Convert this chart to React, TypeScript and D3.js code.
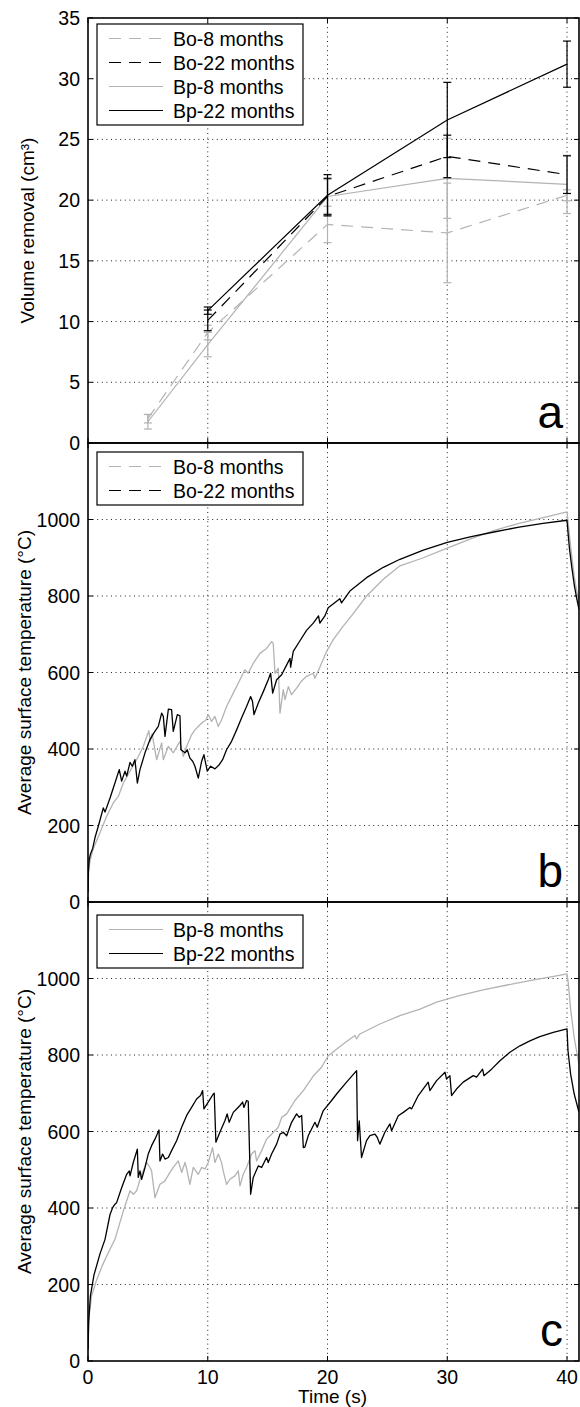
import React from "react";
import * as d3 from "d3";

// ---- Volume removal (panel a) ----
const volTimes8 = [5, 10, 20, 30, 40];
const volTimes22 = [10, 20, 30, 40];
const bo8Vol = [2.0, 9.1, 18.0, 17.3, 20.4];
const bo8Err = [0.35, 0.6, 1.5, 4.1, 0.45];
const bp8Vol = [1.75, 8.1, 20.3, 21.8, 21.3];
const bp8Err = [0.6, 1.0, 1.4, 3.3, 2.4];
const bo22Vol = [10.1, 20.3, 23.6, 22.1];
const bo22Err = [0.85, 1.5, 1.75, 1.55];
const bp22Vol = [10.9, 20.4, 26.6, 31.2];
const bp22Err = [0.3, 1.7, 3.1, 1.9];

// ---- Surface temperature, Bo samples (panel b) ----
const bo8Temp: [number, number][] = [
  [0, 25], [0.05, 75], [0.15, 105], [0.4, 135], [0.58, 150], [1.0, 181], [1.56, 224], [2.11, 259],
  [2.53, 276], [2.95, 311], [3.51, 342], [4.06, 372], [4.62, 407], [5.08, 448], [5.2, 420], [5.35, 440],
  [5.73, 372], [6.15, 416], [6.29, 372], [6.71, 407], [7.12, 390], [7.68, 420], [7.96, 381], [8.24, 407],
  [8.65, 437], [8.93, 450], [9.21, 459], [9.49, 468], [9.85, 476], [10.04, 490], [10.32, 472], [10.6, 485],
  [10.88, 459], [11.15, 476], [11.57, 511], [12.13, 546], [12.69, 581], [13.1, 607], [13.38, 598],
  [13.8, 624], [14.36, 650], [14.91, 663], [15.33, 681], [15.47, 676], [15.61, 598], [15.89, 611],
  [16.03, 494], [16.31, 555], [16.45, 529], [16.73, 563], [17.0, 542], [17.42, 559], [17.84, 578],
  [18.25, 590], [18.81, 598], [18.95, 585], [19.36, 614], [19.92, 655], [20.48, 686], [21.31, 721],
  [21.87, 743], [23.26, 800], [24.66, 844], [26.05, 879], [28, 900], [30, 925], [32, 950], [34, 972],
  [36, 990], [38, 1005], [40, 1020], [40.1, 990], [40.3, 930], [40.6, 850], [41, 780],
];
const bo22Temp: [number, number][] = [
  [0, 25], [0.03, 80], [0.1, 110], [0.2, 125], [0.39, 140], [0.6, 170], [0.86, 198], [1.28, 246],
  [1.42, 235], [1.84, 272], [2.25, 311], [2.61, 346], [2.81, 316], [3.09, 342], [3.23, 329], [3.51, 365],
  [3.7, 355], [3.92, 372], [4.12, 311], [4.34, 346], [4.76, 390], [5.17, 424], [5.5, 442], [5.87, 459],
  [6.15, 494], [6.29, 485], [6.43, 433], [6.71, 504], [6.98, 503], [7.12, 446], [7.46, 490], [7.68, 487],
  [7.76, 398], [8.1, 390], [8.29, 398], [8.51, 376], [8.74, 368], [8.93, 355], [9.21, 324], [9.49, 368],
  [9.68, 385], [9.96, 342], [10.24, 355], [10.6, 348], [10.96, 359], [11.24, 372], [11.57, 398],
  [11.99, 420], [12.41, 450], [12.82, 481], [13.24, 511], [13.58, 537], [13.74, 524], [13.86, 490],
  [14.22, 520], [14.64, 550], [15.05, 581], [15.25, 598], [15.42, 546], [15.75, 581], [16.17, 594],
  [16.59, 620], [16.87, 637], [16.92, 614], [17.14, 655], [17.7, 683], [18.25, 710], [18.81, 729],
  [19.25, 748], [19.36, 729], [19.78, 748], [20.06, 769], [21.03, 793], [21.17, 782], [21.87, 813],
  [23.26, 848], [24.66, 875], [26.05, 896], [28, 920], [30, 940], [32, 955], [34, 968], [36, 980],
  [38, 990], [40, 998], [40.1, 960], [40.2, 925], [40.4, 875], [40.6, 830], [40.8, 795], [41, 765],
];

// ---- Surface temperature, Bp samples (panel c) ----
const bp8Temp: [number, number][] = [
  [0, 30], [0.1, 120], [0.3, 170], [0.7, 210], [1.2, 250], [1.8, 290], [2.25, 318], [2.95, 392],
  [3.51, 445], [3.78, 436], [4.06, 445], [4.48, 488], [4.9, 519], [5.17, 506], [5.31, 497], [5.59, 427],
  [6.01, 462], [6.43, 471], [6.84, 493], [7.12, 506], [7.54, 523], [7.82, 493], [8.1, 519], [8.24, 502],
  [8.51, 462], [8.79, 506], [9.21, 488], [9.49, 506], [9.77, 502], [10.04, 519], [10.4, 558], [10.6, 519],
  [10.88, 541], [11.15, 519], [11.29, 497], [11.57, 462], [11.85, 475], [12.27, 484], [12.55, 497],
  [12.69, 458], [12.96, 488], [13.24, 506], [13.66, 541], [13.94, 550], [14.08, 523], [14.5, 550],
  [14.91, 580], [15.33, 593], [15.89, 611], [16.17, 637], [16.59, 646], [17.28, 681], [17.98, 707],
  [18.81, 745], [19.5, 768], [20.06, 798], [21.31, 829], [22.29, 851], [22.43, 842], [22.7, 855],
  [24.37, 881], [26.05, 903], [27.72, 920], [29.11, 938], [31, 955], [33, 970], [35, 983], [37, 995],
  [39, 1006], [40, 1012], [40.1, 990], [40.3, 920], [40.6, 845], [41, 775],
];
const bp22Temp: [number, number][] = [
  [0, 30], [0.05, 100], [0.2, 170], [0.5, 225], [1.0, 280], [1.42, 318], [1.84, 383], [2.06, 401],
  [2.25, 410], [2.39, 414], [2.81, 453], [3.23, 488], [3.45, 497], [3.51, 484], [3.78, 519], [4.12, 554],
  [4.2, 480], [4.34, 497], [4.48, 475], [4.76, 506], [5.03, 541], [5.31, 563], [5.59, 580], [5.93, 604],
  [6.01, 523], [6.23, 541], [6.43, 528], [6.71, 532], [6.98, 550], [7.4, 576], [7.82, 611], [8.24, 642],
  [8.65, 663], [9.07, 685], [9.4, 694], [9.57, 707], [9.68, 659], [10.04, 677], [10.46, 698],
  [10.54, 700], [10.68, 572], [11.01, 598], [11.43, 628], [11.62, 646], [11.79, 624], [12.13, 650],
  [12.41, 659], [12.69, 668], [12.91, 677], [13.02, 663], [13.24, 681], [13.38, 679], [13.58, 436],
  [13.8, 480], [14.22, 510], [14.5, 506], [14.91, 532], [15.05, 519], [15.33, 541], [15.75, 567],
  [16.03, 593], [16.31, 598], [16.59, 589], [17.0, 624], [17.42, 646], [17.64, 637], [17.84, 642],
  [17.98, 558], [18.11, 559], [18.39, 589], [18.95, 624], [19.14, 611], [19.64, 654], [20.34, 681],
  [20.76, 698], [21.59, 729], [22.43, 759], [22.51, 576], [22.65, 628], [22.84, 532], [23.26, 576],
  [23.54, 589], [23.96, 593], [24.15, 585], [24.37, 567], [24.79, 598], [25.21, 620], [25.35, 602],
  [25.91, 641], [26.33, 650], [26.88, 663], [27.02, 659], [27.58, 694], [28.41, 729], [28.55, 707],
  [29.11, 733], [29.81, 755], [29.94, 737], [30.22, 746], [30.36, 694], [30.77, 711], [31.33, 729],
  [32.17, 746], [32.45, 742], [32.95, 763], [33.06, 746], [33.7, 763], [34.4, 785], [35.23, 807],
  [36.07, 824], [36.9, 837], [37.73, 848], [38.85, 859], [40.0, 868], [40.08, 811], [40.3, 750],
  [40.6, 698], [41, 650],
];

const timeTicks = [0, 10, 20, 30, 40];
const volTicks = [0, 5, 10, 15, 20, 25, 30, 35];
const tempTicks = [0, 200, 400, 600, 800, 1000];

const LIGHT = "#b3b3b3";
const DARK = "#000000";
const DASH = "12,8";
const FONT = "'Liberation Sans', Arial, sans-serif";

const X0 = 88;
const X1 = 579;
const x = d3.scaleLinear().domain([0, 41]).range([X0, X1]);

type Panel = {
  top: number;
  bottom: number;
  domain: [number, number];
  ticks: number[];
  letter: string;
  ylabel: string;
};

const panels: Panel[] = [
  { top: 18, bottom: 443, domain: [0, 35], ticks: volTicks, letter: "a", ylabel: "Volume removal (cm³)" },
  { top: 443, bottom: 902, domain: [0, 1200], ticks: tempTicks, letter: "b", ylabel: "Average surface temperature (°C)" },
  { top: 902, bottom: 1361, domain: [0, 1200], ticks: tempTicks, letter: "c", ylabel: "Average surface temperature (°C)" },
];

const yScale = (p: Panel) => d3.scaleLinear().domain(p.domain).range([p.bottom, p.top]);

function Frame({ p, idx }: { p: Panel; idx: number }) {
  const y = yScale(p);
  const tl = 5;
  return (
    <g>
      {/* dotted grid */}
      {timeTicks.filter((t) => t > 0).map((t) => (
        <line key={"gx" + t} x1={x(t)} x2={x(t)} y1={p.top} y2={p.bottom}
          stroke="#222" strokeWidth={1} strokeDasharray="1,3.6" />
      ))}
      {p.ticks.filter((v) => v > p.domain[0] && y(v) > p.top + 1).map((v) => (
        <line key={"gy" + v} x1={X0} x2={X1} y1={y(v)} y2={y(v)}
          stroke="#222" strokeWidth={1} strokeDasharray="1,3.6" />
      ))}
      {/* inward ticks */}
      {timeTicks.map((t) => (
        <g key={"tx" + t}>
          <line x1={x(t)} x2={x(t)} y1={p.bottom} y2={p.bottom - tl} stroke="#000" />
          <line x1={x(t)} x2={x(t)} y1={p.top} y2={p.top + tl} stroke="#000" />
        </g>
      ))}
      {p.ticks.map((v) => (
        <g key={"ty" + v}>
          <line x1={X0} x2={X0 + tl} y1={y(v)} y2={y(v)} stroke="#000" />
          <line x1={X1} x2={X1 - tl} y1={y(v)} y2={y(v)} stroke="#000" />
          <text x={80} y={y(v)} dy="0.36em" textAnchor="end" fontSize={19.5} fontFamily={FONT}>{v}</text>
        </g>
      ))}
      <text x={563} y={p.bottom - 15} textAnchor="end" fontSize={46} fontFamily={FONT}>{p.letter}</text>
      <text transform={`translate(${idx === 0 ? 34 : 31},${(p.top + p.bottom) / 2}) rotate(-90)`}
        textAnchor="middle" fontSize={19} fontFamily={FONT}>{p.ylabel}</text>
    </g>
  );
}

function Border({ p }: { p: Panel }) {
  return <rect x={X0} y={p.top} width={X1 - X0} height={p.bottom - p.top} fill="none" stroke="#000" strokeWidth={1.6} />;
}

type LegendItem = { label: string; color: string; dash?: string };

function Legend({ top, items }: { top: number; items: LegendItem[] }) {
  const h = items.length * 24 + 5;
  return (
    <g>
      <rect x={97} y={top} width={206} height={h} fill="#fff" stroke="#000" strokeWidth={1.2} />
      {items.map((it, i) => {
        const cy = top + 14.5 + i * 24;
        return (
          <g key={it.label}>
            <line x1={109} x2={163} y1={cy} y2={cy} stroke={it.color} strokeWidth={1.2} strokeDasharray={it.dash} />
            <text x={173} y={cy} dy="0.36em" fontSize={19.5} fontFamily={FONT}>{it.label}</text>
          </g>
        );
      })}
    </g>
  );
}

function ErrorSeries({ times, vals, errs, color, dash, y }: {
  times: number[]; vals: number[]; errs: number[]; color: string; dash?: string; y: d3.ScaleLinear<number, number>;
}) {
  const line = d3.line<number>().x((_, i) => x(times[i])).y((v) => y(v));
  const cap = 4;
  return (
    <g>
      <path d={line(vals) || ""} fill="none" stroke={color} strokeWidth={1.2} strokeDasharray={dash} />
      {vals.map((v, i) => {
        const cx = x(times[i]);
        const lo = y(v - errs[i]);
        const hi = y(v + errs[i]);
        return (
          <g key={i} stroke={color} strokeWidth={1.2}>
            <line x1={cx} x2={cx} y1={lo} y2={hi} />
            <line x1={cx - cap} x2={cx + cap} y1={lo} y2={lo} />
            <line x1={cx - cap} x2={cx + cap} y1={hi} y2={hi} />
          </g>
        );
      })}
    </g>
  );
}

function TempLine({ data, color, y }: { data: [number, number][]; color: string; y: d3.ScaleLinear<number, number> }) {
  const line = d3.line<[number, number]>().x((d) => x(d[0])).y((d) => y(d[1]));
  return <path d={line(data) || ""} fill="none" stroke={color} strokeWidth={1.3} strokeLinejoin="round" />;
}

export default function App() {
  const [pa, pb, pc] = panels;
  const ya = yScale(pa);
  const yb = yScale(pb);
  const yc = yScale(pc);
  return (
    <svg width={580} height={1407} style={{ position: "absolute", left: 0, top: 0, background: "#fff" }}>
      <defs>
        {panels.map((p, i) => (
          <clipPath id={"clip" + i} key={i}>
            <rect x={X0} y={p.top} width={X1 - X0} height={p.bottom - p.top} />
          </clipPath>
        ))}
      </defs>
      {panels.map((p, i) => <Frame key={i} p={p} idx={i} />)}

      <g clipPath="url(#clip0)">
        <ErrorSeries times={volTimes8} vals={bo8Vol} errs={bo8Err} color={LIGHT} dash={DASH} y={ya} />
        <ErrorSeries times={volTimes8} vals={bp8Vol} errs={bp8Err} color={LIGHT} y={ya} />
        <ErrorSeries times={volTimes22} vals={bo22Vol} errs={bo22Err} color={DARK} dash={DASH} y={ya} />
        <ErrorSeries times={volTimes22} vals={bp22Vol} errs={bp22Err} color={DARK} y={ya} />
      </g>
      <g clipPath="url(#clip1)">
        <TempLine data={bo8Temp} color={LIGHT} y={yb} />
        <TempLine data={bo22Temp} color={DARK} y={yb} />
      </g>
      <g clipPath="url(#clip2)">
        <TempLine data={bp8Temp} color={LIGHT} y={yc} />
        <TempLine data={bp22Temp} color={DARK} y={yc} />
      </g>

      <Legend top={24} items={[
        { label: "Bo-8 months", color: LIGHT, dash: DASH },
        { label: "Bo-22 months", color: DARK, dash: DASH },
        { label: "Bp-8 months", color: LIGHT },
        { label: "Bp-22 months", color: DARK },
      ]} />
      <Legend top={452} items={[
        { label: "Bo-8 months", color: LIGHT, dash: DASH },
        { label: "Bo-22 months", color: DARK, dash: DASH },
      ]} />
      <Legend top={915} items={[
        { label: "Bp-8 months", color: LIGHT },
        { label: "Bp-22 months", color: DARK },
      ]} />

      {panels.map((p, i) => <Border key={i} p={p} />)}

      {timeTicks.map((t) => (
        <text key={"xl" + t} x={x(t)} y={1384} textAnchor="middle" fontSize={19.5} fontFamily={FONT}>{t}</text>
      ))}
      <text x={(X0 + X1) / 2 - 1} y={1403} textAnchor="middle" fontSize={19} fontFamily={FONT}>Time (s)</text>
    </svg>
  );
}
